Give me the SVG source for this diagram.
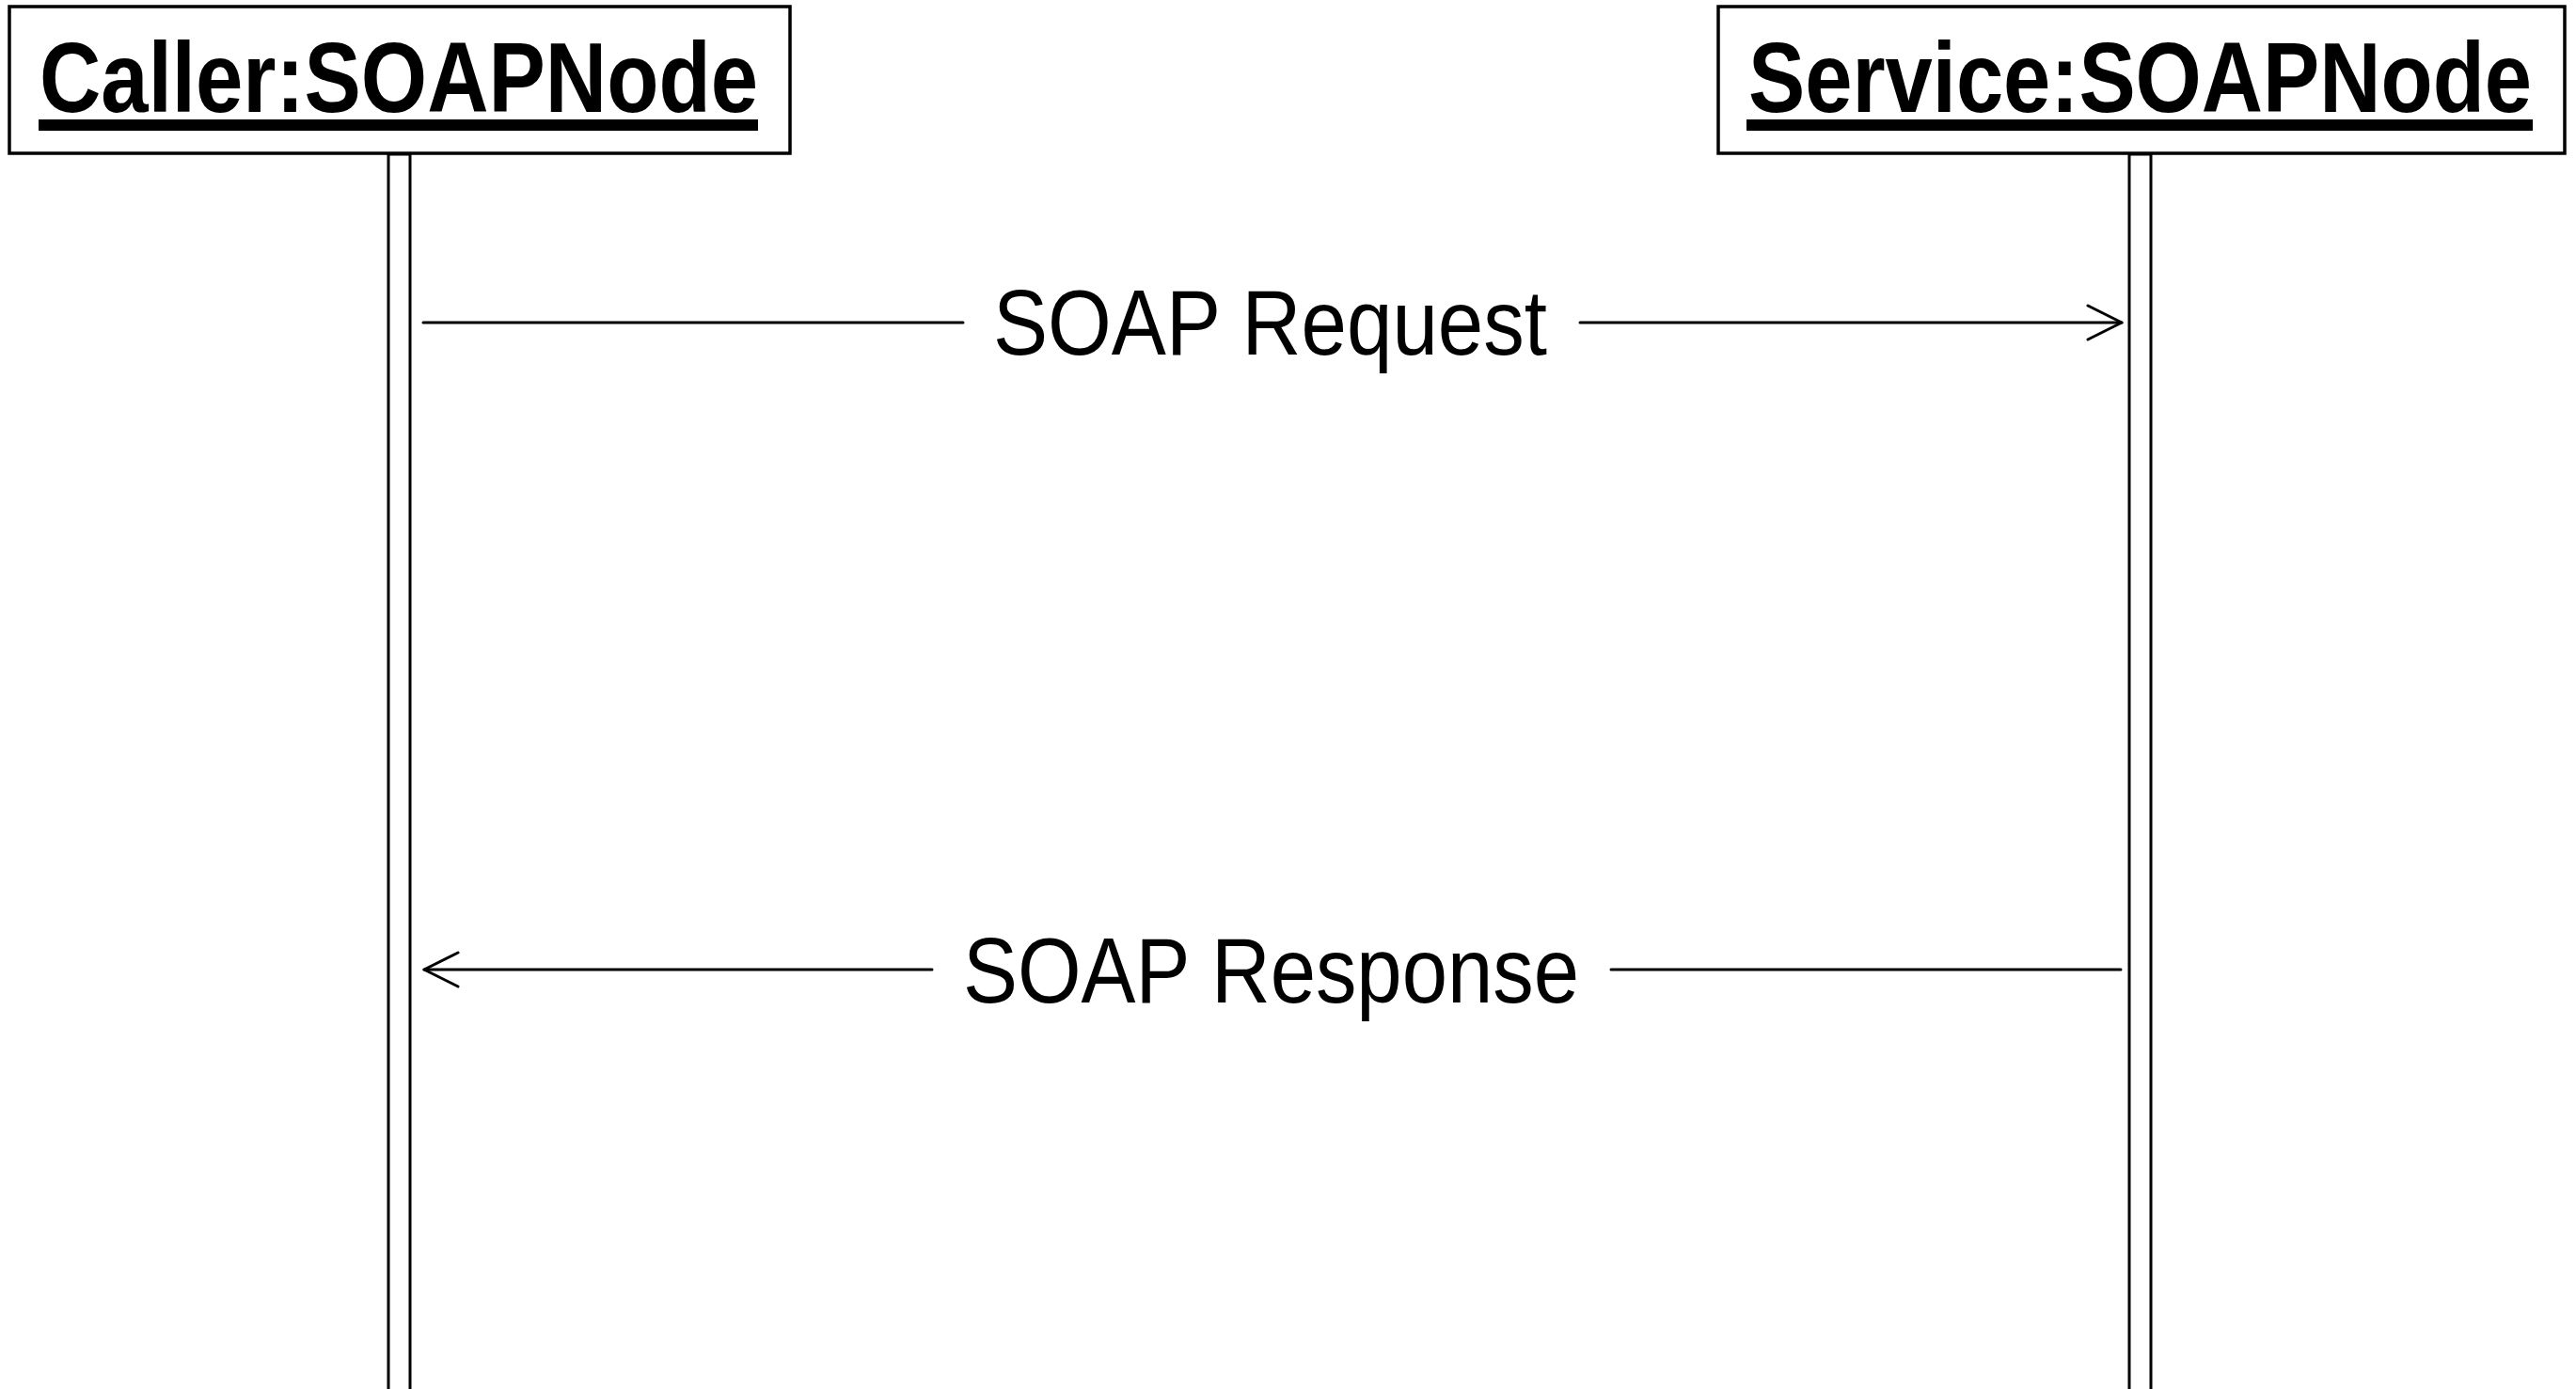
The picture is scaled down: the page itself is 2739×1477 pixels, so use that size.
<svg xmlns="http://www.w3.org/2000/svg" width="2739" height="1477" viewBox="0 0 2739 1477">
  <style>
    .box { fill: #ffffff; stroke: #000000; stroke-width: 3.5; }
    .life { fill: #ffffff; stroke: #000000; stroke-width: 3; }
    .head { font-family: "Liberation Sans Narrow", "Liberation Sans", Arial, sans-serif; font-weight: bold; font-size: 105px; fill: #000000; }
    .ul { fill: #000000; }
    .msg { fill: none; stroke: #000000; stroke-width: 3; stroke-linecap: round; }
    .lbl { font-family: "Liberation Sans Narrow", "Liberation Sans", Arial, sans-serif; font-size: 98px; fill: #000000; }
  </style>
  <defs>
    <marker id="open-arrow" viewBox="0 0 40 40" refX="38" refY="20" markerWidth="40" markerHeight="40" markerUnits="userSpaceOnUse" orient="auto">
      <polyline points="2,2 38,20 2,38" fill="none" stroke="#000000" stroke-width="3" stroke-linecap="round" stroke-linejoin="round"/>
    </marker>
  </defs>
  <rect width="2739" height="1477" fill="#ffffff"/>

  <!-- lifeline: Caller -->
  <g id="caller">
    <rect class="life" x="413" y="164" width="23" height="1330"/>
    <rect class="box" x="10" y="7" width="830" height="156"/>
    <text class="head" x="42" y="119" textLength="764" lengthAdjust="spacingAndGlyphs">Caller:SOAPNode</text>
    <rect class="ul" x="41" y="127" width="765" height="12"/>
  </g>

  <!-- lifeline: Service -->
  <g id="service">
    <rect class="life" x="2264" y="164" width="23" height="1330"/>
    <rect class="box" x="1827" y="7" width="900" height="156"/>
    <text class="head" x="1859" y="119" textLength="833" lengthAdjust="spacingAndGlyphs">Service:SOAPNode</text>
    <rect class="ul" x="1857" y="127" width="836" height="12"/>
  </g>

  <!-- messages -->
  <g id="connectors">
    <line class="msg" x1="450" y1="343" x2="1024" y2="343"/>
    <line class="msg" x1="1680" y1="343" x2="2256" y2="343" marker-end="url(#open-arrow)"/>
    <text class="lbl" x="1056" y="377" textLength="589" lengthAdjust="spacingAndGlyphs">SOAP Request</text>

    <line class="msg" x1="2255" y1="1031" x2="1713" y2="1031"/>
    <line class="msg" x1="991" y1="1031" x2="451" y2="1031" marker-end="url(#open-arrow)"/>
    <text class="lbl" x="1024" y="1066" textLength="655" lengthAdjust="spacingAndGlyphs">SOAP Response</text>
  </g>
</svg>
